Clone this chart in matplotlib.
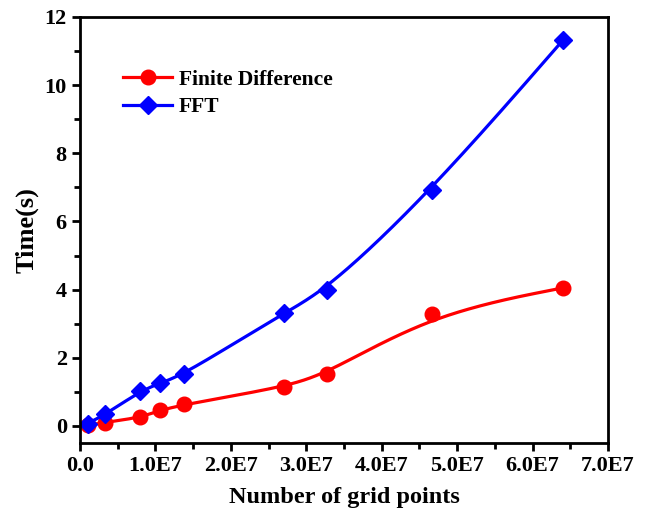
import numpy as np
import matplotlib
matplotlib.use("Agg")
import matplotlib.pyplot as plt
from matplotlib.ticker import MultipleLocator, FuncFormatter

# grid sizes n^3
grid_points = [1.0e6, 3.375e6, 8.0e6, 1.0648e7, 1.3824e7, 2.7e7, 3.2768e7, 4.6656e7, 6.4e7]
time_fd = [0.02, 0.10, 0.25, 0.46, 0.63, 1.14, 1.53, 3.29, 4.05]
time_fft = [0.07, 0.34, 1.02, 1.26, 1.51, 3.32, 3.99, 6.91, 11.31]


def bspline(px, py, n=60):
    # uniform cubic B-spline, data points used as control points (clamped ends)
    px = np.r_[px[0], px[0], px, px[-1], px[-1]]
    py = np.r_[py[0], py[0], py, py[-1], py[-1]]
    t = np.linspace(0, 1, n)
    b0 = (1 - t) ** 3 / 6
    b1 = (3 * t**3 - 6 * t**2 + 4) / 6
    b2 = (-3 * t**3 + 3 * t**2 + 3 * t + 1) / 6
    b3 = t**3 / 6
    xs, ys = [], []
    for i in range(len(px) - 3):
        xs.append(b0 * px[i] + b1 * px[i + 1] + b2 * px[i + 2] + b3 * px[i + 3])
        ys.append(b0 * py[i] + b1 * py[i + 1] + b2 * py[i + 2] + b3 * py[i + 3])
    return np.concatenate(xs), np.concatenate(ys)


plt.rcParams['font.family'] = ['Liberation Serif', 'DejaVu Serif']
plt.rcParams['font.weight'] = 'bold'

fig = plt.figure(figsize=(6.53, 5.13), dpi=100)
ax = fig.add_axes([0.1225, 0.1365, 0.8085, 0.8304])

x = np.array(grid_points)
for y, c, m, ms, lab in [(time_fd, '#ff0000', 'o', 10.5, 'Finite Difference'),
                         (time_fft, '#0000ff', 'D', 9, 'FFT')]:
    sx, sy = bspline(x, np.array(y))
    ax.plot(sx, sy, color=c, lw=2.3)
    ax.plot(x, y, ls='none', marker=m, ms=ms, color=c)
    ax.plot([], [], color=c, lw=2.3, marker=m, ms=ms, label=lab)

ax.set_xlim(0, 7.0e7)
ax.set_ylim(-0.5, 12)
ax.xaxis.set_major_locator(MultipleLocator(1.0e7))
ax.xaxis.set_minor_locator(MultipleLocator(0.5e7))
ax.yaxis.set_major_locator(MultipleLocator(2))
ax.yaxis.set_minor_locator(MultipleLocator(1))
ax.xaxis.set_major_formatter(FuncFormatter(lambda v, p: '0.0' if v == 0 else '%.1fE7' % (v / 1e7)))

ax.tick_params(which='both', direction='out', width=2, labelsize=16)
ax.tick_params(which='major', length=6)
ax.tick_params(which='minor', length=4)
for s in ax.spines.values():
    s.set_linewidth(2)

ax.set_xlabel('Number of grid points', fontsize=17.5, fontweight='bold', labelpad=8)
ax.set_ylabel('Time(s)', fontsize=19, fontweight='bold', labelpad=4)

leg = ax.legend(loc='upper left', bbox_to_anchor=(0.065, 0.897), frameon=False,
                fontsize=15.5, handlelength=2.3, handletextpad=0.3, labelspacing=0.35,
                borderaxespad=0)
for t in leg.get_texts():
    t.set_fontweight('bold')

fig.savefig('out.png', dpi=100)
